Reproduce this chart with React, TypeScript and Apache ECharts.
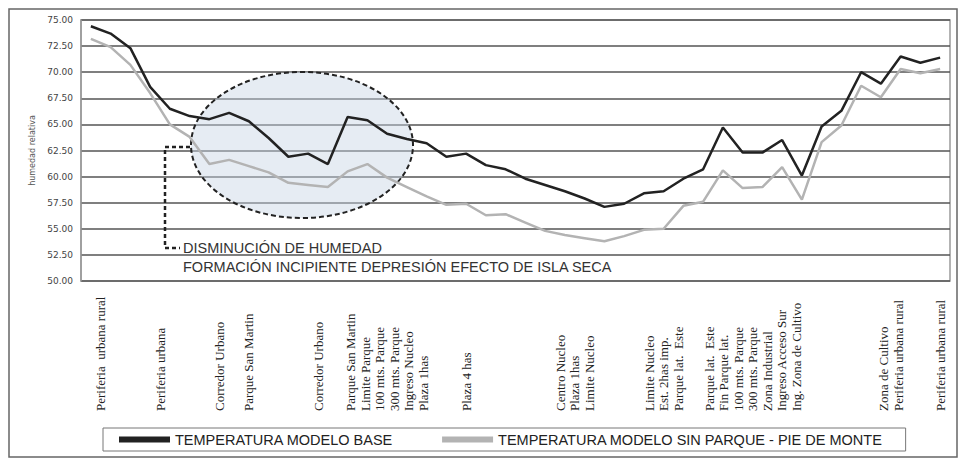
import React, { useEffect, useRef } from "react";
import * as echarts from "echarts";

// 44 measurement stations along the transect
const stations: string[] = [
  "1", "2", "3", "4", "5", "6", "7", "8", "9", "10", "11",
  "12", "13", "14", "15", "16", "17", "18", "19", "20", "21", "22",
  "23", "24", "25", "26", "27", "28", "29", "30", "31", "32", "33",
  "34", "35", "36", "37", "38", "39", "40", "41", "42", "43", "44",
];

const modeloBase: number[] = [
  74.4, 73.7, 72.3, 68.6, 66.5, 65.8, 65.5, 66.1, 65.3, 63.7, 61.9,
  62.2, 61.2, 65.7, 65.4, 64.1, 63.6, 63.2, 61.9, 62.2, 61.1, 60.7,
  59.8, 59.2, 58.6, 57.9, 57.1, 57.4, 58.4, 58.6, 59.8, 60.7, 64.7,
  62.3, 62.3, 63.5, 60.1, 64.8, 66.3, 70.0, 68.9, 71.5, 70.9, 71.4,
];

const modeloSinParque: number[] = [
  73.2, 72.4, 70.7, 68.0, 65.0, 63.8, 61.2, 61.6, 61.0, 60.4, 59.4,
  59.2, 59.0, 60.5, 61.2, 59.9, 59.0, 58.1, 57.3, 57.4, 56.3, 56.4,
  55.6, 54.8, 54.4, 54.1, 53.8, 54.3, 54.9, 55.0, 57.2, 57.6, 60.6,
  58.9, 59.0, 60.9, 57.8, 63.3, 64.9, 68.7, 67.6, 70.3, 69.9, 70.3,
];

// place names; slot = half-station index along the transect
const placeSlots: number[] = [2, 8, 14, 17, 24, 31, 39, 50, 59, 68, 82, 87];
const placeNames: string[] = [
  "Periferia  urbana rural",
  "Periferia urbana",
  "Corredor Urbano",
  "Parque San Martin",
  "Corredor Urbano",
  "Parque San Martin\nLimite Parque\n100 mts. Parque\n300 mts. Parque\nIngreso Nucleo\nPlaza 1has",
  "Plaza 4 has",
  "Centro Nucleo\nPlaza 1has\nLimite Nucleo",
  "Limite Nucleo\nEst. 2has imp.\nParque lat.  Este",
  "Parque lat.  Este\nFin Parque lat.\n100 mts. Parque\n300 mts. Parque\nZona Industrial\nIngreso Acceso Sur\nIng. Zona de Cultivo",
  "Zona de Cultivo\nPeriferia urbana rural",
  "Periferia urbana rural",
];

const seriesNames: string[] = [
  "TEMPERATURA MODELO BASE",
  "TEMPERATURA MODELO SIN PARQUE - PIE DE MONTE",
];

const yTicks = { min: 50, max: 75, step: 2.5 };

const annotationLines: string[] = [
  "DISMINUCIÓN DE HUMEDAD",
  "FORMACIÓN INCIPIENTE DEPRESIÓN EFECTO DE ISLA SECA",
];

export default function App() {
  const ref = useRef<HTMLDivElement>(null);

  useEffect(() => {
    document.body.style.margin = "0";
    if (!ref.current) return;
    const chart = echarts.init(ref.current, undefined, { renderer: "svg" });

    const slotCount = stations.length * 2 + 1;
    const slotLabels: string[] = new Array(slotCount).fill("");
    placeSlots.forEach((s, k) => {
      slotLabels[s] = placeNames[k];
    });

    chart.setOption({
      animation: false,
      backgroundColor: "#ffffff",
      grid: {
        left: 81,
        right: 12,
        top: 20,
        bottom: 180,
        show: true,
        borderColor: "#9a9a9a",
        borderWidth: 1.5,
        backgroundColor: "transparent",
      },
      legend: {
        left: 103,
        top: 428,
        orient: "horizontal",
        icon: "rect",
        itemWidth: 51,
        itemHeight: 6,
        itemGap: 49,
        padding: [4, 23, 4, 16],
        borderColor: "#777",
        borderWidth: 1,
        textStyle: { fontSize: 14.5, fontFamily: "Liberation Sans", color: "#222" },
        data: seriesNames,
      },
      xAxis: [
        {
          type: "category",
          position: "bottom",
          data: stations,
          boundaryGap: true,
          axisLine: { show: false },
          axisTick: { show: false },
          axisLabel: { show: false },
          splitLine: { show: false },
        },
        {
          type: "category",
          position: "bottom",
          data: slotLabels,
          boundaryGap: false,
          axisLine: { show: false },
          axisTick: { show: false },
          splitLine: { show: false },
          axisLabel: {
            interval: 0,
            rotate: 90,
            align: "left",
            verticalAlign: "middle",
            margin: 130,
            fontFamily: "Liberation Serif",
            fontSize: 13,
            lineHeight: 14.5,
            color: "#222",
          },
        },
      ],
      yAxis: {
        type: "value",
        min: yTicks.min,
        max: yTicks.max,
        interval: yTicks.step,
        name: "humedad relativa",
        nameLocation: "middle",
        nameGap: 38,
        nameTextStyle: { fontSize: 8, color: "#555", fontFamily: "DejaVu Sans" },
        axisLine: { show: true, lineStyle: { color: "#9a9a9a", width: 1.5 } },
        axisTick: { show: false },
        splitLine: { lineStyle: { color: "#555", width: 1.6 } },
        axisLabel: {
          formatter: (v: number) => v.toFixed(2),
          fontSize: 9,
          color: "#444",
          margin: 8,
          fontFamily: "DejaVu Sans",
        },
      },
      series: [
        {
          name: seriesNames[0],
          type: "line",
          data: modeloBase,
          symbol: "none",
          color: "#222222",
          lineStyle: { width: 2.5, color: "#222222" },
          z: 4,
        },
        {
          name: seriesNames[1],
          type: "line",
          data: modeloSinParque,
          symbol: "none",
          color: "#b3b3b3",
          lineStyle: { width: 2.5, color: "#b3b3b3" },
          z: 3,
        },
      ],
      graphic: [
        {
          type: "rect",
          shape: { x: 9, y: 9, width: 948, height: 448 },
          style: { fill: "none", stroke: "#666", lineWidth: 1.5 },
          silent: true,
          z: 0,
        },
        {
          type: "ellipse",
          shape: { cx: 302, cy: 145, rx: 111, ry: 73 },
          style: {
            fill: "rgba(200,212,228,0.45)",
            stroke: "#222",
            lineWidth: 2,
            lineDash: [5, 3],
          },
          silent: true,
          z: 1,
        },
        {
          type: "polyline",
          shape: { points: [[190, 147], [165, 147], [165, 248], [180, 248]] },
          style: { fill: "none", stroke: "#222", lineWidth: 2.5, lineDash: [4, 3] },
          silent: true,
          z: 5,
        },
        {
          type: "text",
          x: 183,
          y: 248,
          style: {
            text: annotationLines[0],
            fontSize: 14.5,
            fontFamily: "Liberation Sans",
            fill: "#333",
            verticalAlign: "middle",
          },
          z: 5,
        },
        {
          type: "text",
          x: 183,
          y: 267,
          style: {
            text: annotationLines[1],
            fontSize: 14.5,
            fontFamily: "Liberation Sans",
            fill: "#333",
            verticalAlign: "middle",
          },
          z: 5,
        },
      ],
    });

    return () => chart.dispose();
  }, []);

  return <div ref={ref} style={{ width: 962, height: 461 }} />;
}
